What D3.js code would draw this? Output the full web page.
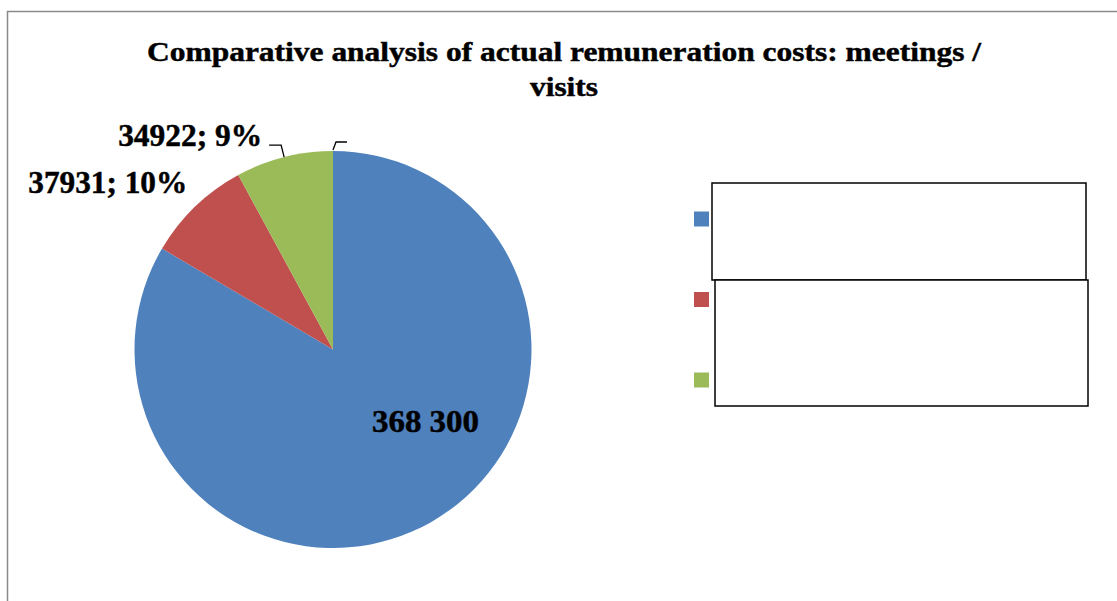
<!DOCTYPE html>
<html>
<head>
<meta charset="utf-8">
<script src="https://cdn.jsdelivr.net/npm/d3@7"></script>
<style>
  html, body { margin: 0; padding: 0; background: #fff; }
  svg { display: block; }
  text { font-family: "Liberation Serif", "Times New Roman", serif; font-weight: bold; fill: #000; stroke: #000; stroke-width: 0.45px; }
</style>
</head>
<body>
<div id="chart"></div>
<script>
// --> DATA
var titleLines = ["Comparative analysis of actual remuneration costs: meetings /", "visits"];
var titleWidths = [834, 68];   // the original text is slightly stretched
var values = [368300, 37931, 34922];
var colors = ["#4f81bd", "#c0504d", "#9bbb59"];
// data labels as shown on the picture (they are shifted by one slice in the original)
var labelTexts = ["368 300", "37931; 10%", "34922; 9%"];
var labelWidths = [107, 159, 144];

// --> SVG DRAWING AREA
var width = 1117,
    height = 601;

var svg = d3.select("#chart").append("svg")
    .attr("width", width)
    .attr("height", height);

// chart frame (only the left and top edges are visible)
svg.append("rect")
    .attr("x", 7.5)
    .attr("y", 11.5)
    .attr("width", width + 20)
    .attr("height", height + 20)
    .attr("fill", "none")
    .attr("stroke", "#8a8a8a")
    .attr("stroke-width", 1.5);

// title
svg.selectAll(".title")
    .data(titleLines)
    .enter().append("text")
    .attr("class", "title")
    .attr("x", 564)
    .attr("y", function(d, i) { return 61 + i * 34.5; })
    .attr("text-anchor", "middle")
    .attr("textLength", function(d, i) { return titleWidths[i]; })
    .attr("lengthAdjust", "spacingAndGlyphs")
    .style("font-size", "27px")
    .text(function(d) { return d; });

// --> PIE
var cx = 333, cy = 349.5, radius = 198.5;

var pie = d3.pie()
    .sort(null)
    .value(function(d) { return d; });

var arc = d3.arc()
    .innerRadius(0)
    .outerRadius(radius);

var g = svg.append("g")
    .attr("transform", "translate(" + cx + "," + cy + ")");

var arcs = pie(values);

g.selectAll("path")
    .data(arcs)
    .enter().append("path")
    .attr("d", arc)
    .attr("fill", function(d, i) { return colors[i]; });

// point on the rim for a given angle
function rim(a, r) {
    return [Math.sin(a) * r, -Math.cos(a) * r];
}

function addLabel(i, x, y, anchor) {
    g.append("text")
        .attr("x", x)
        .attr("y", y)
        .attr("text-anchor", anchor)
        .attr("textLength", labelWidths[i])
        .attr("lengthAdjust", "spacingAndGlyphs")
        .style("font-size", "30.5px")
        .text(labelTexts[i]);
}

// big label inside the blue slice
addLabel(0, 92.5, 82, "middle");

// label next to the red slice
var redMid = (arcs[1].startAngle + arcs[1].endAngle) / 2;
var pRed = rim(redMid, radius + 20);
addLabel(1, pRed[0] + 6, pRed[1] + 1, "end");

// label of the green slice with leader line
var greenMid = (arcs[2].startAngle + arcs[2].endAngle) / 2;
var pGreen = rim(greenMid, radius);
addLabel(2, pGreen[0] - 22, pGreen[1] - 11, "end");

var line = d3.line();
g.append("path")
    .attr("d", line([[pGreen[0] - 15, pGreen[1] - 12], [pGreen[0] - 3, pGreen[1] - 12], [pGreen[0], pGreen[1]]]))
    .attr("fill", "none")
    .attr("stroke", "#000")
    .attr("stroke-width", 1.3);

// empty leader line at the top of the pie
var pTop = rim(arcs[0].startAngle, radius);
g.append("path")
    .attr("d", line([[pTop[0], pTop[1] - 1], [pTop[0] + 3, pTop[1] - 9], [pTop[0] + 14, pTop[1] - 9]]))
    .attr("fill", "none")
    .attr("stroke", "#000")
    .attr("stroke-width", 1.3);

// --> LEGEND
var legendY = d3.scalePoint()
    .domain(d3.range(values.length))
    .range([219, 380]);

svg.selectAll(".legend-key")
    .data(values)
    .enter().append("rect")
    .attr("class", "legend-key")
    .attr("x", 694)
    .attr("y", function(d, i) { return legendY(i) - 7.5; })
    .attr("width", 15)
    .attr("height", 15)
    .attr("fill", function(d, i) { return colors[i]; });

// white boxes covering the legend text
var boxes = [
    {x: 712, y: 183, w: 374, h: 97},
    {x: 715, y: 280, w: 373, h: 126}
];
svg.selectAll(".cover")
    .data(boxes)
    .enter().append("rect")
    .attr("class", "cover")
    .attr("x", function(d) { return d.x; })
    .attr("y", function(d) { return d.y; })
    .attr("width", function(d) { return d.w; })
    .attr("height", function(d) { return d.h; })
    .attr("fill", "#fff")
    .attr("stroke", "#000")
    .attr("stroke-width", 1.5);
</script>
</body>
</html>
